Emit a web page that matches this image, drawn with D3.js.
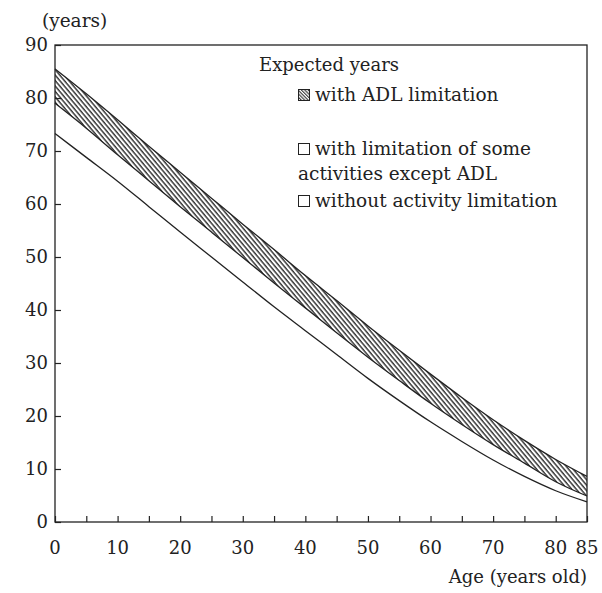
<!DOCTYPE html>
<html>
<head>
<meta charset="utf-8">
<script src="https://cdn.jsdelivr.net/npm/d3@7"></script>
<style>
  body { margin: 0; background: #fff; }
  svg text { font-family: "DejaVu Serif", serif; fill: #222; }
</style>
</head>
<body>
<div id="chart"></div>
<script>
// ages
const ages = [0, 5, 10, 15, 20, 25, 30, 35, 40, 45, 50, 55, 60, 65, 70, 75, 80, 85];
// total expected years (top of hatched band)
const totalYears = [85.5, 80.8, 75.9, 70.9, 66.0, 61.1, 56.2, 51.4, 46.5, 41.8, 37.0, 32.4, 27.9, 23.5, 19.3, 15.4, 11.8, 8.6];
// years without ADL limitation (bottom of hatched band)
const noAdlYears = [79.0, 74.3, 69.3, 64.4, 59.5, 54.7, 49.9, 45.1, 40.4, 35.7, 31.1, 26.7, 22.4, 18.4, 14.6, 11.1, 7.6, 4.9];
// years without any activity limitation
const noLimitYears = [73.3, 68.8, 64.3, 59.5, 54.7, 50.0, 45.3, 40.6, 36.1, 31.6, 27.1, 22.9, 18.9, 15.2, 11.7, 8.6, 5.9, 3.8];

const yTicks = [0, 10, 20, 30, 40, 50, 60, 70, 80, 90];
const xLabels = [0, 10, 20, 30, 40, 50, 60, 70, 80, 85];
const xMinor = d3.range(0, 86, 5);

const legendItems = [
    { lines: ['with ADL limitation'], hatch: true },
    { lines: ['with limitation of some', 'activities except ADL'], hatch: false },
    { lines: ['without activity limitation'], hatch: false }
];

const width = 602, height = 593;
const margin = { top: 45, right: 15, bottom: 71, left: 55 };

const svg = d3.select('#chart')
    .append('svg')
    .attr('width', width)
    .attr('height', height);

// hatch patterns
const defs = svg.append('defs');
defs.append('pattern')
    .attr('id', 'hatch')
    .attr('patternUnits', 'userSpaceOnUse')
    .attr('width', 3.5)
    .attr('height', 10)
    .attr('patternTransform', 'rotate(-40)')
    .append('line')
    .attr('x1', 1).attr('y1', 0)
    .attr('x2', 1).attr('y2', 10)
    .attr('stroke', '#1a1a1a')
    .attr('stroke-width', 1.3);

defs.append('pattern')
    .attr('id', 'hatchSmall')
    .attr('patternUnits', 'userSpaceOnUse')
    .attr('width', 2.4)
    .attr('height', 10)
    .attr('patternTransform', 'rotate(-45)')
    .append('line')
    .attr('x1', 0.6).attr('y1', 0)
    .attr('x2', 0.6).attr('y2', 10)
    .attr('stroke', '#222')
    .attr('stroke-width', 1);

const x = d3.scaleLinear()
    .domain([0, 85])
    .range([margin.left, width - margin.right]);

const y = d3.scaleLinear()
    .domain([0, 90])
    .range([height - margin.bottom, margin.top]);

const rows = ages.map((a, i) => ({
    age: a, total: totalYears[i], noAdl: noAdlYears[i], noLimit: noLimitYears[i]
}));

// hatched band
const area = d3.area()
    .x(d => x(d.age))
    .y0(d => y(d.noAdl))
    .y1(d => y(d.total))
    .curve(d3.curveMonotoneX);

svg.append('path')
    .datum(rows)
    .attr('d', area)
    .attr('fill', 'url(#hatch)');

// boundary lines
const lineFor = key => d3.line()
    .x(d => x(d.age))
    .y(d => y(d[key]))
    .curve(d3.curveMonotoneX);

['total', 'noAdl', 'noLimit'].forEach(key => {
    svg.append('path')
        .datum(rows)
        .attr('d', lineFor(key))
        .attr('fill', 'none')
        .attr('stroke', '#222')
        .attr('stroke-width', 1.3);
});

// frame
svg.append('rect')
    .attr('x', x(0))
    .attr('y', y(90))
    .attr('width', x(85) - x(0))
    .attr('height', y(0) - y(90))
    .attr('fill', 'none')
    .attr('stroke', '#222')
    .attr('stroke-width', 1.3);

// Y axis, ticks inside
const yAxis = svg.append('g')
    .attr('transform', `translate(${x(0)},0)`)
    .call(d3.axisRight(y).tickValues(yTicks).tickSize(6).tickFormat(''));
yAxis.select('.domain').remove();
yAxis.selectAll('.tick line').attr('stroke', '#222').attr('stroke-width', 1.2);

svg.selectAll('.ylab')
    .data(yTicks)
    .enter()
    .append('text')
    .attr('class', 'ylab')
    .attr('x', 48)
    .attr('y', d => y(d) + 6)
    .attr('text-anchor', 'end')
    .style('font-size', '18px')
    .text(d => d);

// X axis, ticks inside
const xAxis = svg.append('g')
    .attr('transform', `translate(0,${y(0)})`)
    .call(d3.axisTop(x).tickValues(xMinor).tickSize(6).tickFormat(''));
xAxis.select('.domain').remove();
xAxis.selectAll('.tick line').attr('stroke', '#222').attr('stroke-width', 1.2);

svg.selectAll('.xlab')
    .data(xLabels)
    .enter()
    .append('text')
    .attr('class', 'xlab')
    .attr('x', d => x(d))
    .attr('y', y(0) + 32)
    .attr('text-anchor', 'middle')
    .style('font-size', '18px')
    .text(d => d);

// axis titles
svg.append('text')
    .attr('x', 42)
    .attr('y', 27)
    .style('font-size', '18.5px')
    .text('(years)');

svg.append('text')
    .attr('x', 587)
    .attr('y', 583)
    .attr('text-anchor', 'end')
    .style('font-size', '18px')
    .text('Age (years old)');

// legend
svg.append('text')
    .attr('x', 259)
    .attr('y', 71)
    .style('font-size', '18px')
    .text('Expected years');

const legendY = [101, 155, 207];
legendItems.forEach((item, i) => {
    const g = svg.append('g').attr('transform', `translate(298,${legendY[i]})`);
    g.append('rect')
        .attr('x', 0.5)
        .attr('y', -11.5)
        .attr('width', 11)
        .attr('height', 11)
        .attr('fill', item.hatch ? 'url(#hatchSmall)' : '#fff')
        .attr('stroke', '#222')
        .attr('stroke-width', 1);
    item.lines.forEach((t, j) => {
        g.append('text')
            .attr('x', j === 0 ? 17 : 0)
            .attr('y', j * 25)
            .style('font-size', '18.5px')
            .text(t);
    });
});
</script>
</body>
</html>
